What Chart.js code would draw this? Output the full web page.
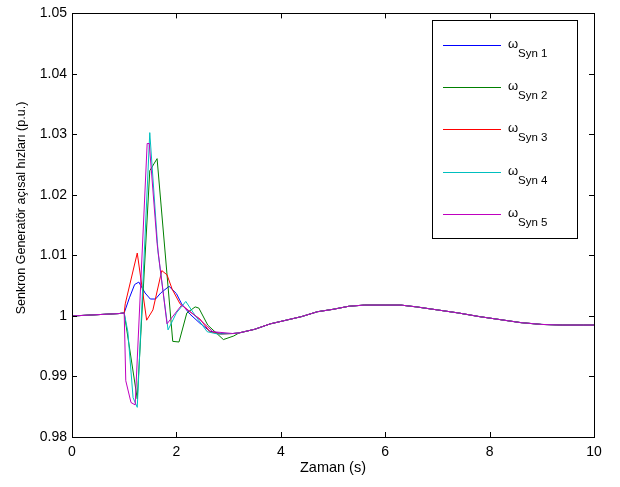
<!DOCTYPE html>
<html>
<head>
<meta charset="utf-8">
<script src="https://cdn.jsdelivr.net/npm/chart.js@4.4.0/dist/chart.umd.min.js"></script>
<style>
  body { margin: 0; background: #fff; }
  canvas { display: block; }
</style>
</head>
<body>
<canvas id="speedChart" width="620" height="487"></canvas>
<script>
// ********
// * Data *
// ********
const tailTime = [3.2, 3.5, 3.8, 4.1, 4.4, 4.7, 5.0, 5.3, 5.6, 6.0, 6.3, 6.6, 7.0, 7.4, 7.8, 8.2, 8.6, 9.0, 9.4, 9.8, 10];
const tailValues = [0.9972, 0.9978, 0.9987, 0.9993, 0.9999, 1.0007, 1.0011, 1.0016, 1.0018, 1.0018, 1.0018, 1.0015, 1.0010, 1.0005, 0.9999, 0.9994, 0.9989, 0.9986, 0.9985, 0.9985, 0.9985];

const syn1Time = [0, 0.9, 1.0, 1.1, 1.2, 1.28, 1.4, 1.5, 1.6, 1.7, 1.86, 2.0, 2.1, 2.26, 2.45, 2.64, 2.85, 3.08];
const syn1Values = [1.0, 1.0004, 1.0005, 1.003, 1.0052, 1.0056, 1.0038, 1.0028, 1.0028, 1.0038, 1.0049, 1.0037, 1.002, 1.0003, 0.9988, 0.9975, 0.9971, 0.9971];

const syn2Time = [0, 0.9, 1.0, 1.25, 1.49, 1.63, 1.93, 2.05, 2.2, 2.36, 2.43, 2.6, 2.9, 3.1];
const syn2Values = [1.0, 1.0004, 1.0005, 0.9863, 1.024, 1.026, 0.9958, 0.9957, 1.0005, 1.0015, 1.0013, 0.9985, 0.9961, 0.9967];

const syn3Time = [0, 0.9, 1.0, 1.02, 1.25, 1.43, 1.55, 1.72, 1.82, 1.92, 2.07, 2.26, 2.32, 2.45, 2.64, 2.85, 3.08];
const syn3Values = [1.0, 1.0004, 1.0005, 1.002, 1.0104, 0.9993, 1.001, 1.0075, 1.0068, 1.0044, 1.002, 1.0007, 1.0003, 0.9995, 0.9974, 0.997, 0.9971];

const syn4Time = [0, 0.9, 1.0, 1.07, 1.17, 1.25, 1.49, 1.65, 1.84, 2.0, 2.18, 2.35, 2.59, 2.8, 3.08];
const syn4Values = [1.0, 1.0004, 1.0005, 0.9974, 0.9865, 0.9849, 1.0303, 1.0104, 0.9977, 1.0005, 1.0024, 1.0002, 0.9974, 0.997, 0.9971];

const syn5Time = [0, 0.9, 1.0, 1.03, 1.13, 1.21, 1.44, 1.48, 1.63, 1.82, 2.1, 2.4, 2.7, 3.08];
const syn5Values = [1.0, 1.0004, 1.0005, 0.9893, 0.9857, 0.9853, 1.0285, 1.0285, 1.012, 0.9987, 1.0018, 0.9998, 0.9974, 0.9971];

const seriesNames = ['Syn 1', 'Syn 2', 'Syn 3', 'Syn 4', 'Syn 5'];
const seriesColors = ['#0000ff', '#008000', '#ff0000', '#00bfbf', '#bf00bf'];

const xTicks = [0, 2, 4, 6, 8, 10];
const yTicks = [0.98, 0.99, 1.0, 1.01, 1.02, 1.03, 1.04, 1.05];

// ***********
// * Helpers *
// ***********
function toPoints(times, values) {
    const pts = times.map((t, i) => ({ x: t, y: values[i] }));
    tailTime.forEach((t, i) => {
        if (t > times[times.length - 1]) {
            pts.push({ x: t, y: tailValues[i] });
        }
    });
    return pts;
}

const allSeries = [
    toPoints(syn1Time, syn1Values),
    toPoints(syn2Time, syn2Values),
    toPoints(syn3Time, syn3Values),
    toPoints(syn4Time, syn4Values),
    toPoints(syn5Time, syn5Values)
];

const FONT = '"Liberation Sans", Arial, sans-serif';

// inner ticks + full box, like matlab axes
const boxTicks = {
    id: 'boxTicks',
    afterDraw(chart) {
        const { ctx, chartArea: a, scales } = chart;
        ctx.save();
        ctx.strokeStyle = '#000';
        ctx.lineWidth = 1;
        ctx.beginPath();
        xTicks.forEach(v => {
            const px = Math.round(scales.x.getPixelForValue(v)) + 0.5;
            ctx.moveTo(px, a.bottom); ctx.lineTo(px, a.bottom - 5);
            ctx.moveTo(px, a.top); ctx.lineTo(px, a.top + 5);
        });
        yTicks.forEach(v => {
            const py = Math.round(scales.y.getPixelForValue(v)) + 0.5;
            ctx.moveTo(a.left, py); ctx.lineTo(a.left + 5, py);
            ctx.moveTo(a.right, py); ctx.lineTo(a.right - 5, py);
        });
        ctx.stroke();
        ctx.strokeRect(Math.round(a.left) + 0.5, Math.round(a.top) + 0.5, Math.round(a.right - a.left), Math.round(a.bottom - a.top));
        ctx.restore();
    }
};

// legend box with subscript labels
const omegaLegend = {
    id: 'omegaLegend',
    afterDraw(chart) {
        const ctx = chart.ctx;
        const left = 432, top = 20, w = 145, h = 218;
        ctx.save();
        ctx.fillStyle = '#fff';
        ctx.fillRect(left, top, w, h);
        ctx.strokeStyle = '#000';
        ctx.lineWidth = 1;
        ctx.strokeRect(left + 0.5, top + 0.5, w, h);
        seriesNames.forEach((name, i) => {
            const y = 45 + i * 42.2;
            ctx.strokeStyle = seriesColors[i];
            ctx.beginPath();
            ctx.moveTo(443, Math.round(y) + 0.5);
            ctx.lineTo(501, Math.round(y) + 0.5);
            ctx.stroke();
            ctx.fillStyle = '#000';
            ctx.textBaseline = 'alphabetic';
            ctx.font = '13px ' + FONT;
            ctx.fillText('ω', 508, y + 3);
            ctx.font = '11.5px ' + FONT;
            ctx.fillText(name, 518, y + 12);
        });
        ctx.restore();
    }
};

const yTitle = {
    id: 'yTitle',
    afterDraw(chart) {
        const ctx = chart.ctx;
        ctx.save();
        ctx.translate(22, 208);
        ctx.rotate(-Math.PI / 2);
        ctx.font = '12.5px ' + FONT;
        ctx.fillStyle = '#000';
        ctx.textAlign = 'center';
        ctx.textBaseline = 'middle';
        ctx.fillText('Senkron Generatör açısal hızları (p.u.)', 0, 0);
        ctx.restore();
    }
};

// **********
// * Chart *
// **********
const config = {
    type: 'line',
    data: {
        datasets: allSeries.map((pts, i) => ({
            label: 'ω ' + seriesNames[i],
            data: pts,
            borderColor: seriesColors[i],
            backgroundColor: seriesColors[i],
            borderWidth: 1,
            pointRadius: 0,
            tension: 0,
            fill: false,
            order: 5 - i
        }))
    },
    options: {
        responsive: false,
        animation: false,
        layout: { padding: { top: 7, right: 26, left: 0, bottom: 0 } },
        plugins: { legend: { display: false }, tooltip: { enabled: false } },
        scales: {
            x: {
                type: 'linear',
                min: 0,
                max: 10,
                afterBuildTicks: scale => { scale.ticks = xTicks.map(v => ({ value: v })); },
                afterFit: scale => { scale.height = 50; },
                grid: { display: false, drawTicks: false },
                border: { display: false },
                ticks: { color: '#000', padding: 7, font: { family: FONT, size: 14 } },
                title: {
                    display: true,
                    text: 'Zaman (s)',
                    color: '#000',
                    font: { family: FONT, size: 14.5 },
                    padding: { top: 0, bottom: 10 }
                }
            },
            y: {
                min: 0.98,
                max: 1.05,
                afterBuildTicks: scale => { scale.ticks = yTicks.map(v => ({ value: v })); },
                afterFit: scale => { scale.width = 72; },
                grid: { display: false, drawTicks: false },
                border: { display: false },
                ticks: {
                    color: '#000',
                    padding: 5,
                    font: { family: FONT, size: 14 },
                    callback: v => String(Number(v.toFixed(2)))
                }
            }
        }
    },
    plugins: [boxTicks, omegaLegend, yTitle]
};

const speedChart = new Chart(document.getElementById('speedChart').getContext('2d'), config);
</script>
</body>
</html>
